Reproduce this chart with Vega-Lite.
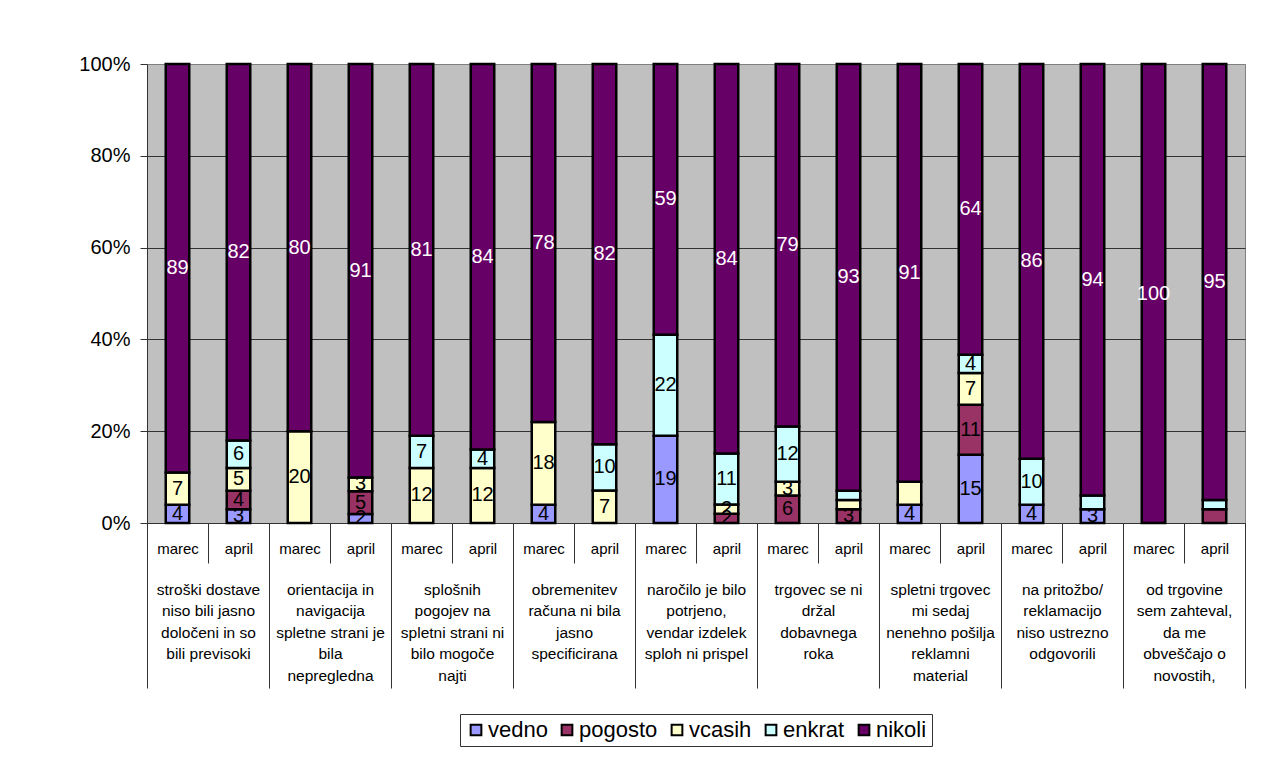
{
  "$schema": "https://vega.github.io/schema/vega-lite/v6.json",
  "width": 1098,
  "height": 459,
  "autosize": {"type": "none"},
  "padding": {"left": 147, "top": 64, "right": 24, "bottom": 242},
  "background": "white",
  "config": {
    "font": "Liberation Sans",
    "view": {"fill": "#C0C0C0", "stroke": "#808080", "strokeWidth": 1},
    "legend": {"layout": {"bottom": {"anchor": "middle"}}}
  },
  "datasets": {
    "answers": [
      {"bar": "1|marec", "answer": "vedno", "value": 4},
      {"bar": "1|marec", "answer": "vcasih", "value": 7},
      {"bar": "1|marec", "answer": "nikoli", "value": 89},
      {"bar": "1|april", "answer": "vedno", "value": 3},
      {"bar": "1|april", "answer": "pogosto", "value": 4},
      {"bar": "1|april", "answer": "vcasih", "value": 5},
      {"bar": "1|april", "answer": "enkrat", "value": 6},
      {"bar": "1|april", "answer": "nikoli", "value": 82},
      {"bar": "2|marec", "answer": "vcasih", "value": 20},
      {"bar": "2|marec", "answer": "nikoli", "value": 80},
      {"bar": "2|april", "answer": "vedno", "value": 2},
      {"bar": "2|april", "answer": "pogosto", "value": 5},
      {"bar": "2|april", "answer": "vcasih", "value": 3},
      {"bar": "2|april", "answer": "nikoli", "value": 91},
      {"bar": "3|marec", "answer": "vcasih", "value": 12},
      {"bar": "3|marec", "answer": "enkrat", "value": 7},
      {"bar": "3|marec", "answer": "nikoli", "value": 81},
      {"bar": "3|april", "answer": "vcasih", "value": 12},
      {"bar": "3|april", "answer": "enkrat", "value": 4},
      {"bar": "3|april", "answer": "nikoli", "value": 84},
      {"bar": "4|marec", "answer": "vedno", "value": 4},
      {"bar": "4|marec", "answer": "vcasih", "value": 18},
      {"bar": "4|marec", "answer": "nikoli", "value": 78},
      {"bar": "4|april", "answer": "vcasih", "value": 7},
      {"bar": "4|april", "answer": "enkrat", "value": 10},
      {"bar": "4|april", "answer": "nikoli", "value": 82},
      {"bar": "5|marec", "answer": "vedno", "value": 19},
      {"bar": "5|marec", "answer": "enkrat", "value": 22},
      {"bar": "5|marec", "answer": "nikoli", "value": 59},
      {"bar": "5|april", "answer": "pogosto", "value": 2},
      {"bar": "5|april", "answer": "vcasih", "value": 2},
      {"bar": "5|april", "answer": "enkrat", "value": 11},
      {"bar": "5|april", "answer": "nikoli", "value": 84},
      {"bar": "6|marec", "answer": "pogosto", "value": 6},
      {"bar": "6|marec", "answer": "vcasih", "value": 3},
      {"bar": "6|marec", "answer": "enkrat", "value": 12},
      {"bar": "6|marec", "answer": "nikoli", "value": 79},
      {"bar": "6|april", "answer": "pogosto", "value": 3},
      {"bar": "6|april", "answer": "vcasih", "value": 2, "hide": true},
      {"bar": "6|april", "answer": "enkrat", "value": 2, "hide": true},
      {"bar": "6|april", "answer": "nikoli", "value": 93},
      {"bar": "7|marec", "answer": "vedno", "value": 4},
      {"bar": "7|marec", "answer": "vcasih", "value": 5, "hide": true},
      {"bar": "7|marec", "answer": "nikoli", "value": 91},
      {"bar": "7|april", "answer": "vedno", "value": 15},
      {"bar": "7|april", "answer": "pogosto", "value": 11},
      {"bar": "7|april", "answer": "vcasih", "value": 7},
      {"bar": "7|april", "answer": "enkrat", "value": 4},
      {"bar": "7|april", "answer": "nikoli", "value": 64},
      {"bar": "8|marec", "answer": "vedno", "value": 4},
      {"bar": "8|marec", "answer": "enkrat", "value": 10},
      {"bar": "8|marec", "answer": "nikoli", "value": 86},
      {"bar": "8|april", "answer": "vedno", "value": 3},
      {"bar": "8|april", "answer": "enkrat", "value": 3, "hide": true},
      {"bar": "8|april", "answer": "nikoli", "value": 94},
      {"bar": "9|marec", "answer": "nikoli", "value": 100},
      {"bar": "9|april", "answer": "pogosto", "value": 3, "hide": true},
      {"bar": "9|april", "answer": "enkrat", "value": 2, "hide": true},
      {"bar": "9|april", "answer": "nikoli", "value": 95}
    ],
    "groups": [
      {"group": "stroški dostave|niso bili jasno|določeni in so|bili previsoki"},
      {"group": "orientacija in|navigacija|spletne strani je|bila|nepregledna"},
      {"group": "splošnih|pogojev na|spletni strani ni|bilo mogoče|najti"},
      {"group": "obremenitev|računa ni bila|jasno|specificirana"},
      {"group": "naročilo je bilo|potrjeno,|vendar izdelek|sploh ni prispel"},
      {"group": "trgovec se ni|držal|dobavnega|roka"},
      {"group": "spletni trgovec|mi sedaj|nenehno pošilja|reklamni|material"},
      {"group": "na pritožbo/|reklamacijo|niso ustrezno|odgovorili"},
      {"group": "od trgovine|sem zahteval,|da me|obveščajo o|novostih,"}
    ]
  },
  "layer": [
    {
      "data": {"name": "answers"},
      "transform": [
        {"calculate": "indexof(['vedno','pogosto','vcasih','enkrat','nikoli'], datum.answer)", "as": "ord"},
        {"stack": "value", "groupby": ["bar"], "offset": "normalize", "sort": [{"field": "ord", "order": "ascending"}], "as": ["y0", "y1"]},
        {"calculate": "(datum.y0 + datum.y1) / 2", "as": "ymid"}
      ],
      "encoding": {
        "x": {
          "field": "bar", "type": "nominal", "sort": null,
          "scale": {"paddingInner": 0, "paddingOuter": 0},
          "axis": {
            "orient": "bottom",
            "title": null, "labelExpr": "isString(datum.value) ? split(datum.value, '|')[1] : ''", "labelAngle": 0,
            "labelFontSize": 15, "labelColor": "black", "labelBaseline": "alphabetic",
            "labelPadding": -10, "labelOverlap": false, "tickBand": "extent", "tickSize": 40,
            "tickColor": "#333333", "domainColor": "#333333", "grid": false
          }
        }
      },
      "layer": [
        {
          "mark": {"type": "bar", "width": {"band": 0.385}, "stroke": "black", "strokeWidth": 2.5},
          "encoding": {
            "y": {
              "field": "y0", "type": "quantitative", "scale": {"domain": [0, 1]},
              "axis": {
                "title": null, "values": [0, 0.2, 0.4, 0.6, 0.8, 1], "format": ".0%",
                "labelFontSize": 20, "labelColor": "black", "labelPadding": 10,
                "tickSize": 7, "tickColor": "#333333", "domainColor": "#333333",
                "gridColor": {"condition": {"test": "datum.value === 1", "value": "#808080"}, "value": "#333333"}
              }
            },
            "y2": {"field": "y1"},
            "color": {
              "field": "answer", "type": "nominal",
              "scale": {"domain": ["vedno", "pogosto", "vcasih", "enkrat", "nikoli"], "range": ["#9999FF", "#993366", "#FFFFCC", "#CCFFFF", "#660066"]},
              "legend": {
                "title": null, "orient": "bottom", "direction": "horizontal", "symbolType": "square",
                "symbolSize": 115, "symbolStrokeWidth": 2, "symbolStrokeColor": "black", "symbolOpacity": 1,
                "labelFontSize": 22, "labelColor": "black", "labelOffset": 1, "columnPadding": 8,
                "padding": 5, "strokeColor": "#333333", "fillColor": "white", "offset": 25
              }
            }
          }
        },
        {
          "transform": [{"filter": "!datum.hide"}],
          "mark": {"type": "text", "fontSize": 20, "baseline": "middle", "align": "center"},
          "encoding": {
            "y": {"field": "ymid", "type": "quantitative"},
            "text": {"field": "value", "type": "quantitative"},
            "color": {"condition": {"test": "datum.answer === 'nikoli'", "value": "white"}, "value": "black"}
          }
        }
      ]
    },
    {
      "data": {"name": "groups"},
      "mark": {"type": "rule", "opacity": 0},
      "encoding": {
        "x": {
          "field": "group", "type": "nominal", "sort": null,
          "scale": {"paddingInner": 0, "paddingOuter": 0},
          "axis": {
            "orient": "bottom",
            "title": null, "labelExpr": "isString(datum.value) ? split(datum.value, '|') : ''", "labelAngle": 0,
            "labelFontSize": 15.5, "labelColor": "black", "labelBaseline": "alphabetic",
            "labelLineHeight": 21.5, "labelPadding": -94, "labelOverlap": false, "labelLimit": 0,
            "tickBand": "extent", "tickSize": 165, "tickColor": "#333333", "domain": false, "grid": false
          }
        }
      }
    }
  ],
  "resolve": {"scale": {"x": "independent"}}
}
